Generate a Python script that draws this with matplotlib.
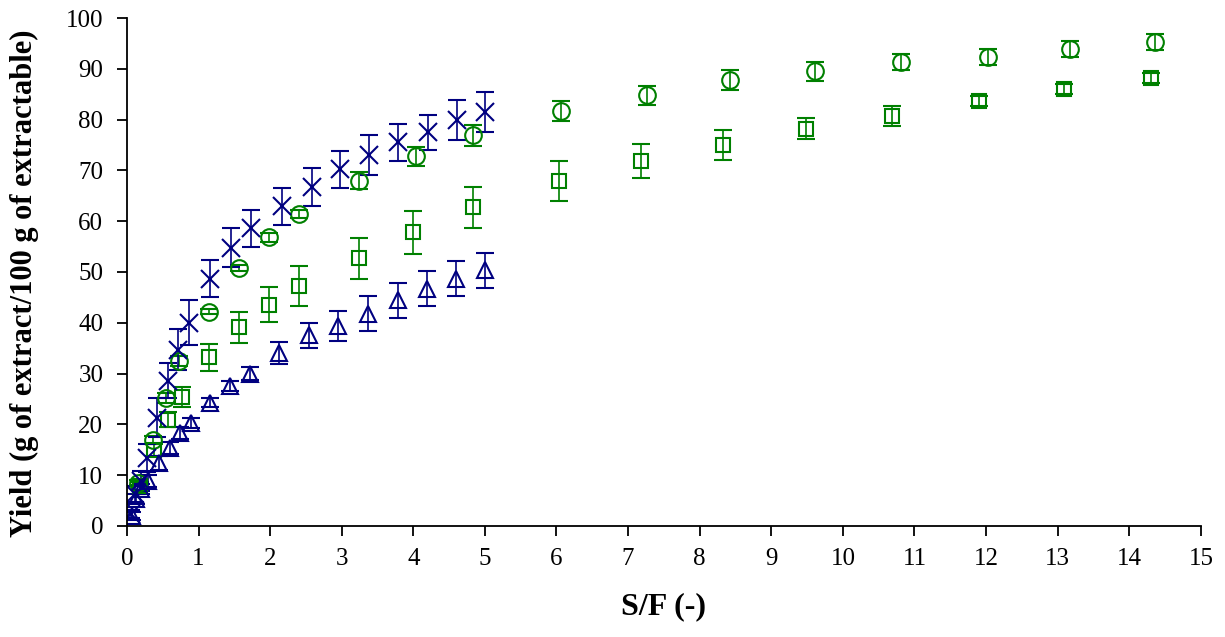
import matplotlib
matplotlib.use("Agg")
import matplotlib.pyplot as plt

plt.rcParams['font.family'] = ['Liberation Serif', 'DejaVu Serif']

# series 1: navy crosses
sf_cross = [0.06, 0.11, 0.19, 0.28, 0.42, 0.57, 0.71, 0.87, 1.16, 1.46, 1.74, 2.17, 2.58, 2.98, 3.38, 3.79, 4.20, 4.61, 5.00]
yield_cross = [2.4, 6.3, 8.9, 13.4, 21.3, 28.6, 34.7, 40.0, 48.7, 54.8, 58.6, 62.9, 66.7, 70.2, 73.0, 75.5, 77.5, 79.9, 81.5]
err_cross = [0.8, 1.5, 2.0, 2.8, 3.8, 3.5, 4.0, 4.4, 3.7, 3.8, 3.7, 3.6, 3.7, 3.7, 4.0, 3.7, 3.5, 4.0, 4.0]

# series 2: navy triangles
sf_tri = [0.07, 0.12, 0.20, 0.30, 0.45, 0.60, 0.74, 0.89, 1.16, 1.44, 1.72, 2.12, 2.54, 2.95, 3.37, 3.78, 4.19, 4.60, 5.00]
yield_tri = [2.0, 5.3, 7.3, 8.9, 12.4, 15.4, 18.3, 20.3, 24.3, 27.6, 30.0, 34.1, 37.5, 39.4, 41.8, 44.4, 46.7, 48.7, 50.3]
err_tri = [0.8, 1.0, 1.0, 1.2, 1.3, 1.2, 1.2, 1.0, 0.8, 1.0, 1.3, 2.2, 2.5, 3.0, 3.5, 3.4, 3.4, 3.4, 3.4]

# series 3: green circles
sf_circ = [0.16, 0.36, 0.55, 0.73, 1.15, 1.57, 1.99, 2.41, 3.24, 4.04, 4.84, 6.06, 7.26, 8.43, 9.61, 10.81, 12.02, 13.17, 14.36]
yield_circ = [8.5, 17.0, 25.2, 32.5, 42.2, 50.7, 56.8, 61.5, 68.0, 72.8, 76.9, 81.7, 84.8, 87.8, 89.5, 91.3, 92.4, 93.9, 95.3]
err_circ = [0.5, 0.8, 1.0, 1.0, 0.5, 0.6, 0.8, 0.8, 1.6, 1.9, 2.1, 1.9, 1.9, 1.9, 1.9, 1.6, 1.6, 1.6, 1.5]

# series 4: green squares
sf_sq = [0.18, 0.38, 0.57, 0.77, 1.15, 1.57, 1.99, 2.41, 3.24, 4.00, 4.83, 6.03, 7.18, 8.33, 9.49, 10.69, 11.90, 13.09, 14.30]
yield_sq = [7.8, 15.0, 20.9, 25.4, 33.2, 39.1, 43.6, 47.3, 52.7, 57.8, 62.7, 67.9, 71.9, 75.0, 78.2, 80.7, 83.7, 86.0, 88.2]
err_sq = [0.8, 1.2, 1.5, 1.9, 2.7, 3.0, 3.5, 3.9, 4.0, 4.2, 4.1, 4.0, 3.3, 3.0, 2.1, 1.9, 1.0, 1.0, 1.0]

navy = '#000080'
green = '#008000'

fig = plt.figure(figsize=(12.25, 6.37), dpi=100)
ax = fig.add_axes([0.1036, 0.1743, 0.8767, 0.7974])

style = dict(linestyle='none', capsize=6.5, elinewidth=1.2, capthick=1.2, markeredgewidth=1.5)
ax.errorbar(sf_sq, yield_sq, yerr=err_sq, marker='s', markersize=10, mfc='none', mec=green, ecolor=green, **style)
ax.errorbar(sf_circ, yield_circ, yerr=err_circ, marker='o', markersize=12, mfc='none', mec=green, ecolor=green, **style)
ax.errorbar(sf_tri, yield_tri, yerr=err_tri, marker='^', markersize=11, mfc='none', mec=navy, ecolor=navy, **style)
ax.errorbar(sf_cross, yield_cross, yerr=err_cross, marker='x', markersize=13, mfc='none', mec=navy, ecolor=navy, **style)

ax.set_xlim(0, 15)
ax.set_ylim(0, 100)
ax.set_xticks(range(0, 16))
ax.set_yticks(range(0, 101, 10))
ax.spines['top'].set_visible(False)
ax.spines['right'].set_visible(False)
ax.spines['left'].set_linewidth(1.3)
ax.spines['bottom'].set_linewidth(1.3)
ax.tick_params(axis='both', direction='out', length=7, width=1.3, labelsize=18)
ax.tick_params(axis='y', pad=10)
ax.tick_params(axis='x', pad=9)

ax.set_xlabel('S/F (-)', fontsize=23, fontweight='bold', labelpad=16)
ax.set_ylabel('Yield (g of extract/100 g of extractable)', fontsize=22, fontweight='bold')
ax.yaxis.set_label_coords(-0.0815, 0.478)

fig.savefig('out.png', dpi=100)
